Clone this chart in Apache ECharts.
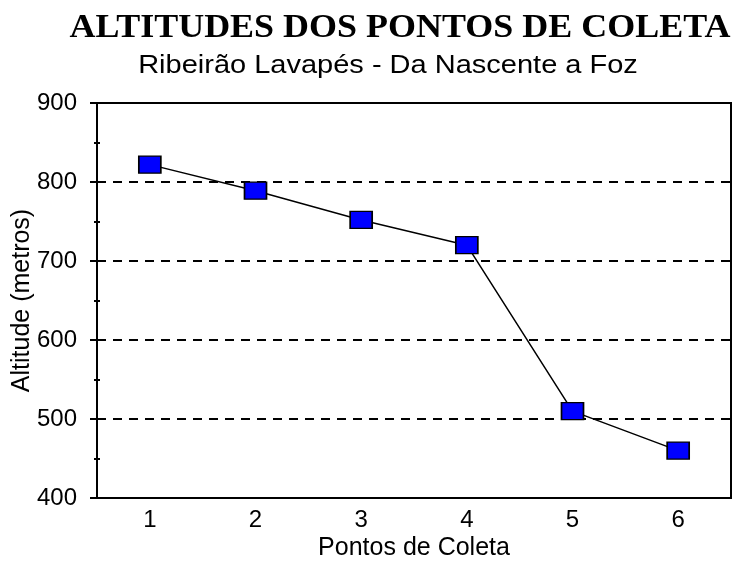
<!DOCTYPE html>
<html>
<head>
<meta charset="utf-8">
<script src="https://cdn.jsdelivr.net/npm/echarts@6/dist/echarts.min.js"></script>
<style>
  html, body { margin: 0; padding: 0; background: #fff; }
  #chart { width: 734px; height: 562px; }
</style>
</head>
<body>
<div id="chart"></div>
<script>
// data
const pontos = ['1', '2', '3', '4', '5', '6'];
const altitudes = [822, 789, 752, 720, 510, 460];
const yTicks = [400, 500, 600, 700, 800, 900];

const chart = echarts.init(document.getElementById('chart'));

const sans = 'Liberation Sans, Arial, sans-serif';
const serif = 'Liberation Serif, Times New Roman, serif';

const option = {
  backgroundColor: '#fff',
  animation: false,
  // title and subtitle look a bit stretched sideways in the original, so scale them
  graphic: [
    {
      type: 'text',
      x: 400, y: 28, scaleX: 1.09,
      style: {
        text: 'ALTITUDES DOS PONTOS DE COLETA',
        fontFamily: serif, fontWeight: 'bold', fontSize: 33,
        fill: '#000', align: 'center', verticalAlign: 'middle'
      }
    },
    {
      type: 'text',
      x: 388, y: 66, scaleX: 1.16,
      style: {
        text: 'Ribeirão Lavapés - Da Nascente a Foz',
        fontFamily: sans, fontSize: 25,
        fill: '#000', align: 'center', verticalAlign: 'middle'
      }
    }
  ],
  grid: {
    left: 97, right: 3, top: 103, bottom: 64,
    outerBoundsMode: 'none',
    show: true, borderColor: '#000', borderWidth: 2, backgroundColor: 'transparent'
  },
  xAxis: [
    {
      type: 'category',
      data: pontos,
      boundaryGap: true,
      name: 'Pontos de Coleta',
      nameLocation: 'middle',
      nameGap: 38,
      nameMoveOverlap: false,
      nameTextStyle: { fontFamily: sans, fontSize: 25, color: '#000' },
      axisLine: { lineStyle: { color: '#000', width: 2 } },
      axisTick: { alignWithLabel: true, length: 8, lineStyle: { color: '#000', width: 2 } },
      axisLabel: { fontFamily: sans, fontSize: 24, color: '#000', margin: 10 }
    },
    {
      type: 'category',
      data: pontos,
      position: 'bottom',
      boundaryGap: true,
      axisLine: { show: false },
      axisTick: { alignWithLabel: true, inside: true, length: 6, lineStyle: { color: '#000', width: 2 } },
      axisLabel: { show: false }
    }
  ],
  yAxis: [
    {
      type: 'value',
      min: yTicks[0],
      max: yTicks[yTicks.length - 1],
      interval: 100,
      name: 'Altitude (metros)',
      nameLocation: 'middle',
      nameGap: 62,
      nameMoveOverlap: false,
      nameTextStyle: { fontFamily: sans, fontSize: 25, color: '#000' },
      axisLine: { show: true, lineStyle: { color: '#000', width: 2 } },
      axisTick: { show: true, length: 7, lineStyle: { color: '#000', width: 2 } },
      minorTick: { show: true, splitNumber: 2, length: 3, lineStyle: { color: '#000', width: 2 } },
      axisLabel: { fontFamily: sans, fontSize: 24, color: '#000', margin: 20 },
      splitLine: { show: true, lineStyle: { color: '#000', width: 2, type: [9, 7] } }
    },
    {
      type: 'value',
      position: 'left',
      min: yTicks[0],
      max: yTicks[yTicks.length - 1],
      interval: 100,
      axisLine: { show: false },
      axisTick: { show: true, inside: true, length: 3, lineStyle: { color: '#000', width: 2 } },
      minorTick: { show: true, splitNumber: 2, length: 3, lineStyle: { color: '#000', width: 2 } },
      axisLabel: { show: false },
      splitLine: { show: false }
    }
  ],
  series: [
    {
      type: 'line',
      data: altitudes,
      symbol: 'rect',
      symbolSize: [22, 17],
      lineStyle: { color: '#000', width: 1.5 },
      itemStyle: { color: '#0000ff', borderColor: '#000', borderWidth: 1.5 }
    }
  ]
};

chart.setOption(option);
</script>
</body>
</html>
